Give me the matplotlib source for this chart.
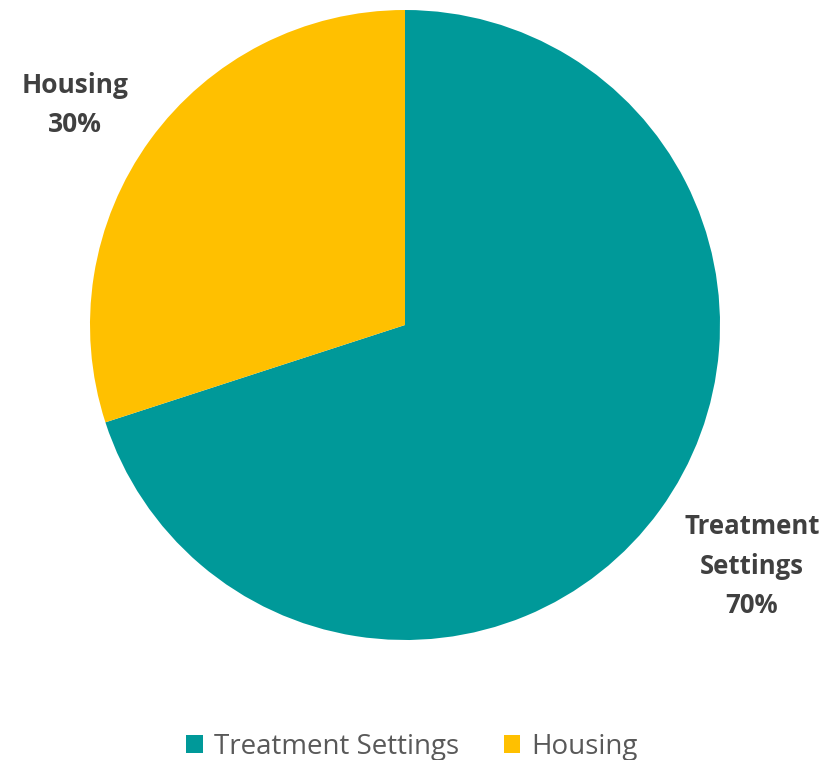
import matplotlib.pyplot as plt
from matplotlib.patches import Patch

labels = ["Treatment Settings", "Housing"]
shares = [70, 30]
colors = ["#009999", "#FFC000"]
label_text = ["Treatment\nSettings\n70%", "Housing\n30%"]

plt.rcParams['font.family'] = ['Open Sans', 'DejaVu Sans']

W, H = 838, 760
fig = plt.figure(figsize=(W / 100, H / 100), dpi=100)

# pie box in pixels: centre (405, 325), radius 315
cx, cy, r = 405, 325, 315
ax = fig.add_axes([(cx - r) / W, (H - cy - r) / H, 2 * r / W, 2 * r / H])
wedges, _ = ax.pie(shares, colors=colors, startangle=90, counterclock=False,
                   radius=1, wedgeprops=dict(linewidth=0))
ax.set_xlim(-1, 1)
ax.set_ylim(-1, 1)
ax.set_aspect('equal')

# data labels (outside the pie)
fig.text(752 / W, 1 - 566 / H, label_text[0], ha='center', va='center',
         fontsize=18.5, fontweight='bold', color='#404040', linespacing=1.6)
fig.text(75 / W, 1 - 105 / H, label_text[1], ha='center', va='center',
         fontsize=19, fontweight='bold', color='#404040', linespacing=1.6)

handles = [Patch(facecolor=c, edgecolor='none') for c in colors]
fig.legend(handles, labels, loc='center', bbox_to_anchor=(412 / W, 1 - 747 / H),
           ncol=2, frameon=False, fontsize=20, labelcolor='#595959',
           handlelength=0.6, handleheight=0.6, handletextpad=0.4, columnspacing=1.6)

fig.savefig("out.png", dpi=100)
